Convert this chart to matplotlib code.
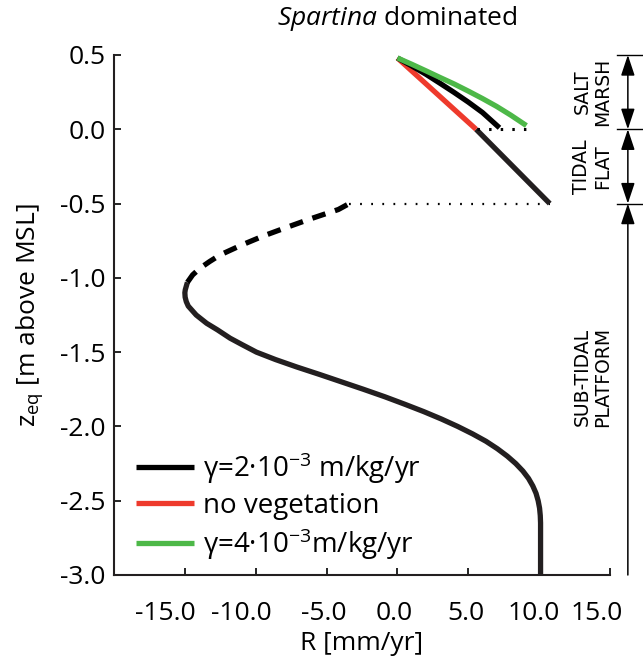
import matplotlib
matplotlib.use("Agg")
import matplotlib.pyplot as plt
import matplotlib.transforms as mtransforms

plt.rcParams["font.family"] = ["Open Sans", "DejaVu Sans"]
plt.rcParams["axes.unicode_minus"] = False
plt.rcParams["mathtext.fontset"] = "custom"
plt.rcParams["mathtext.rm"] = "Open Sans"
plt.rcParams["mathtext.it"] = "Open Sans:italic"

# stable sub-tidal branch (solid)
z_sub = [-3.0, -2.65, -2.6, -2.55, -2.5, -2.45, -2.4, -2.35, -2.3, -2.25,
         -2.2, -2.15, -2.1, -2.05, -2.0, -1.95, -1.9, -1.85, -1.8, -1.75,
         -1.7, -1.65, -1.6, -1.55, -1.5, -1.45, -1.406, -1.35, -1.306,
         -1.25, -1.19, -1.16, -1.13, -1.1, -1.08, -1.05, -1.03]
R_sub = [10.1, 10.1, 10.08, 10.03, 9.93, 9.78, 9.55, 9.25, 8.85, 8.35,
         7.75, 7.05, 6.25, 5.3, 4.25, 3.1, 1.85, 0.5, -0.9, -2.4,
         -3.95, -5.5, -7.1, -8.6, -9.95, -10.95, -11.81, -12.7, -13.46,
         -14.2, -14.76, -14.9, -14.98, -15.0, -14.97, -14.88, -14.82]
# unstable branch (dashed)
z_unst = [-1.03, -0.98, -0.935, -0.89, -0.846, -0.779, -0.718, -0.66,
          -0.60, -0.54, -0.5]
R_unst = [-14.82, -14.45, -13.93, -13.25, -12.52, -10.99, -9.46, -7.81,
          -6.05, -4.17, -3.4]
# tidal flat
z_flat = [-0.5, 0.0]
R_flat = [10.75, 5.55]
# salt marsh branches
z_noveg = [0.0, 0.48]
R_noveg = [5.55, 0.0]
R_g2 = [0.0, 1.0, 2.0, 3.0, 4.0, 5.0, 6.0, 7.2]
z_g2 = [0.48, 0.427, 0.371, 0.31, 0.248, 0.183, 0.113, 0.01]
R_g4 = [0.0, 1.0, 2.0, 3.0, 4.0, 5.0, 6.0, 7.0, 8.0, 9.1]
z_g4 = [0.48, 0.438, 0.394, 0.349, 0.305, 0.257, 0.207, 0.154, 0.095, 0.025]
# dotted jumps
R_jump_low = [-3.4, 10.75]
R_jump_high = [5.6, 9.3]

xticks = [-15, -10, -5, 0, 5, 10, 15]
yticks = [0.5, 0.0, -0.5, -1.0, -1.5, -2.0, -2.5, -3.0]

BLACK = "#231f20"
RED = "#ee3a2c"
GREEN = "#4db848"
lw = 3.8
FS = 19

fig = plt.figure(figsize=(6.43, 6.64), dpi=100)
ax = fig.add_axes([114 / 643, 1 - 575 / 664, 496 / 643, 520 / 664])

ax.plot(R_sub, z_sub, color=BLACK, lw=lw, solid_capstyle="butt")
ax.plot(R_unst, z_unst, color="black", lw=lw, dashes=(2.6, 1.9))
ax.plot(R_jump_low, [-0.5, -0.5], color="black", lw=1.6, dashes=(0.8, 4.2))
ax.plot(R_flat, z_flat, color=BLACK, lw=lw, solid_capstyle="butt")
ax.plot(R_jump_high, [0.0, 0.0], color="black", lw=2.2, dashes=(0.8, 3.0))
l_nov, = ax.plot(R_noveg, z_noveg, color=RED, lw=lw, solid_capstyle="butt")
l_g2, = ax.plot(R_g2, z_g2, color="black", lw=lw, solid_capstyle="butt")
l_g4, = ax.plot(R_g4, z_g4, color=GREEN, lw=lw, solid_capstyle="butt")

ax.set_xlim(-20, 15)
ax.set_ylim(-3.0, 0.5)
ax.set_xticks(xticks)
ax.set_xticklabels([f"{v:.1f}" for v in xticks])
ax.set_yticks(yticks)
ax.set_yticklabels([f"{v:.1f}" for v in yticks])
ax.tick_params(direction="in", length=5, width=1.2, labelsize=FS)
ax.tick_params(axis="y", pad=6)
ax.tick_params(axis="x", pad=19)
for s in ["top", "right"]:
    ax.spines[s].set_visible(False)
for s in ["left", "bottom"]:
    ax.spines[s].set_linewidth(1.5)
    ax.spines[s].set_color(BLACK)

# the original x tick labels sit slightly left of their ticks
label_shift = [-20, -14, -3, -3, -2, -5, -13]
for lab, dx in zip(ax.get_xticklabels(), label_shift):
    lab.set_transform(lab.get_transform() +
                      mtransforms.ScaledTranslation(dx / 100, 0, fig.dpi_scale_trans))

ax.set_xlabel("R [mm/yr]", fontsize=FS, labelpad=3)
ax.set_ylabel(r"z$_{\mathregular{eq}}$ [m above MSL]", fontsize=FS, labelpad=11)
fig.text(397 / 643, 0.972, r"$\mathit{Spartina}$ dominated", fontsize=FS,
         ha="center", va="center")

ax.legend([l_g2, l_nov, l_g4],
          [r"γ=2·10$^{\mathregular{-3}}$ m/kg/yr", "no vegetation",
           r"γ=4·10$^{\mathregular{-3}}$m/kg/yr"],
          loc="lower left", bbox_to_anchor=(0.005, -0.012), frameon=False,
          fontsize=20, handlelength=2.1, handletextpad=0.32, labelspacing=0.22,
          borderaxespad=0.3)

# zone annotations on the right
tr = mtransforms.blended_transform_factory(ax.transAxes, ax.transData)
for zz in [0.5, 0.0, -0.5]:
    ax.plot([1.014, 1.067], [zz, zz], color="black", lw=1.0, transform=tr,
            clip_on=False)
xa = 1.036
ap = dict(arrowstyle="<|-|>,head_length=0.9,head_width=0.3", color="black",
          lw=1.1, mutation_scale=14, shrinkA=0, shrinkB=0)
ax.annotate("", xy=(xa, 0.5), xytext=(xa, 0.0), xycoords=tr, textcoords=tr,
            arrowprops=ap)
ax.annotate("", xy=(xa, 0.0), xytext=(xa, -0.5), xycoords=tr, textcoords=tr,
            arrowprops=ap)
ap1 = dict(ap, arrowstyle="-|>,head_length=0.9,head_width=0.3")
ax.annotate("", xy=(xa, -0.5), xytext=(xa, -3.0), xycoords=tr, textcoords=tr,
            arrowprops=ap1)
zone_kw = dict(transform=tr, rotation=90, ha="center", va="center",
               fontsize=13.5, family="DejaVu Sans", linespacing=1.1,
               multialignment="center", clip_on=False)
ax.text(0.964, 0.25, "SALT\nMARSH", **zone_kw)
ax.text(0.964, -0.25, "TIDAL\nFLAT", **zone_kw)
ax.text(0.964, -1.667, "SUB-TIDAL\nPLATFORM", **zone_kw)

fig.savefig("out.png", dpi=100)
